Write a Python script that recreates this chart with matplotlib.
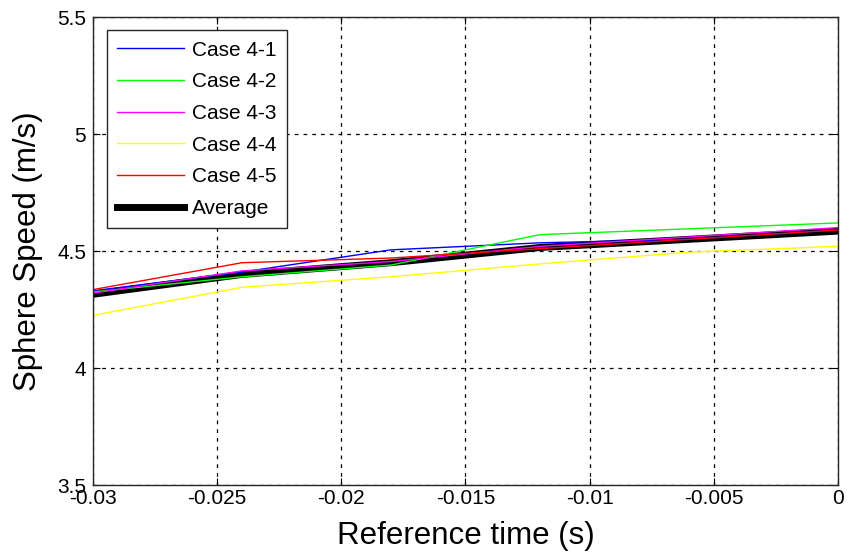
import matplotlib
matplotlib.use("Agg")
import matplotlib.pyplot as plt

plt.rcParams['font.family'] = ['Liberation Sans', 'DejaVu Sans']

# Reference time (s)
t = [-0.030, -0.024, -0.018, -0.012, -0.006, 0.0]

# Sphere speed (m/s) for each case
case_4_1 = [4.330, 4.410, 4.505, 4.535, 4.550, 4.590]
case_4_2 = [4.325, 4.390, 4.440, 4.570, 4.595, 4.620]
case_4_3 = [4.320, 4.415, 4.455, 4.520, 4.560, 4.600]
case_4_4 = [4.225, 4.345, 4.390, 4.445, 4.495, 4.520]
case_4_5 = [4.335, 4.450, 4.470, 4.510, 4.550, 4.590]
average = [4.315, 4.400, 4.450, 4.515, 4.550, 4.585]

labels = ['Case 4-1', 'Case 4-2', 'Case 4-3', 'Case 4-4', 'Case 4-5', 'Average']
colors = ['#0000ff', '#00ff00', '#ff00ff', '#ffff00', '#ff0000', '#000000']

xticks = [-0.03, -0.025, -0.02, -0.015, -0.01, -0.005, 0]
xticklabels = ['-0.03', '-0.025', '-0.02', '-0.015', '-0.01', '-0.005', '0']
yticks = [3.5, 4, 4.5, 5, 5.5]
yticklabels = ['3.5', '4', '4.5', '5', '5.5']

fig = plt.figure(figsize=(8.49, 5.58), dpi=100)
ax = fig.add_axes([0.1095, 0.1308, 0.8775, 0.8387])

series = [case_4_1, case_4_2, case_4_3, case_4_4, case_4_5]
for y, lab, c in zip(series, labels[:5], colors[:5]):
    ax.plot(t, y, color=c, lw=1.0, label=lab)
ax.plot(t, average, color='black', lw=5, label='Average', zorder=1.5)

ax.set_xlim(-0.03, 0)
ax.set_ylim(3.5, 5.5)
ax.set_xticks(xticks)
ax.set_xticklabels(xticklabels)
ax.set_yticks(yticks)
ax.set_yticklabels(yticklabels)
ax.tick_params(direction='in', top=True, right=True, labelsize=15, length=5, width=0.8)
ax.tick_params(axis='x', pad=3)
ax.tick_params(axis='y', pad=5)
ax.grid(True, color='black', linestyle=(0, (3, 4)), linewidth=0.9)
for s in ax.spines.values():
    s.set_linewidth(1.0)
    s.set_color('#262626')

ax.set_xlabel('Reference time (s)', fontsize=22.5, labelpad=9)
ax.set_ylabel('Sphere Speed (m/s)', fontsize=22.5, labelpad=10)

leg = ax.legend(loc='upper left', bbox_to_anchor=(0.0188, 0.972), borderaxespad=0,
                fontsize=15, fancybox=False, edgecolor='#262626', framealpha=1,
                handlelength=3.2, labelspacing=0.61, borderpad=0.5, handletextpad=0.4)
leg.get_frame().set_linewidth(1.0)

fig.savefig('out.png', dpi=100)
